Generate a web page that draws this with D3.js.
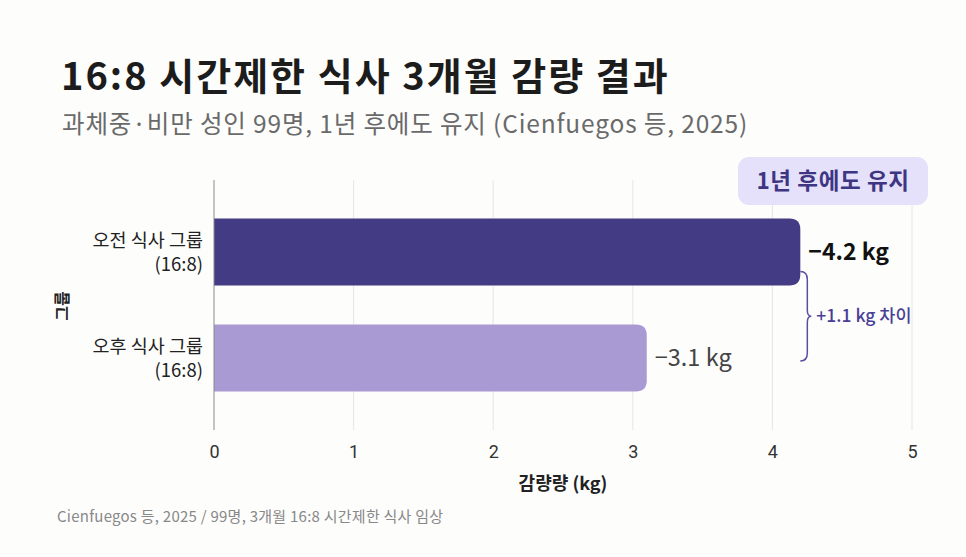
<!DOCTYPE html>
<html>
<head>
<meta charset="utf-8">
<script src="https://cdn.jsdelivr.net/npm/d3@7"></script>
<style>
  body { margin: 0; background: #fdfdfc; }
  svg { display: block; font-family: "Noto Sans CJK KR", "Noto Sans", sans-serif; }
</style>
</head>
<body>
<script>
// data
const groups = ["오전 식사 그룹", "오후 식사 그룹"];
const groupSub = ["(16:8)", "(16:8)"];
const loss = [4.2, 3.1];
const valueLabels = ["\u22124.2 kg", "\u22123.1 kg"];
const xTicks = [0, 1, 2, 3, 4, 5];
const colors = ["#433b84", "#a99ad4"];

const W = 966, H = 557;
const m = { left: 214, right: 54, top: 180, bottom: 127 };

const svg = d3.select("body").append("svg")
  .attr("width", W).attr("height", H);

svg.append("rect").attr("width", W).attr("height", H).attr("fill", "#fdfdfc");

// titles
svg.append("text")
  .attr("x", 61).attr("y", 90)
  .attr("font-size", "38px").attr("font-weight", 700)
  .attr("letter-spacing", "2px")
  .attr("fill", "#1c1c1c")
  .text("16:8 시간제한 식사 3개월 감량 결과");

svg.append("text")
  .attr("x", 62).attr("y", 133)
  .attr("font-size", "24.5px")
  .attr("letter-spacing", "0.85px")
  .attr("fill", "#6a6a6a")
  .text("과체중·비만 성인 99명, 1년 후에도 유지 (Cienfuegos 등, 2025)");

const x = d3.scaleLinear().domain([0, 5]).range([m.left, W - m.right]);
const y = d3.scaleBand().domain(groups).range([m.top, H - m.bottom])
  .paddingInner(0.368).paddingOuter(0.363);

// grid
svg.append("g").selectAll("line")
  .data(xTicks.slice(1))
  .join("line")
  .attr("x1", d => x(d)).attr("x2", d => x(d))
  .attr("y1", m.top).attr("y2", H - m.bottom)
  .attr("stroke", "#e6e6e6").attr("stroke-width", 1);

// bars: square on the left, rounded on the right
const r = 11;
function barPath(d, i) {
  const x0 = x(0), x1 = x(d), y0 = y(groups[i]), y1 = y0 + y.bandwidth();
  return `M${x0},${y0}H${x1 - r}Q${x1},${y0} ${x1},${y0 + r}V${y1 - r}Q${x1},${y1} ${x1 - r},${y1}H${x0}Z`;
}
svg.append("g").selectAll("path")
  .data(loss)
  .join("path")
  .attr("d", barPath)
  .attr("fill", (d, i) => colors[i]);

// y axis line
svg.append("line")
  .attr("x1", x(0)).attr("x2", x(0))
  .attr("y1", m.top).attr("y2", H - m.bottom)
  .attr("stroke", "#8a8a8a").attr("stroke-width", 1);

// x axis ticks
const xAxis = svg.append("g")
  .attr("transform", `translate(0,${H - m.bottom})`)
  .call(d3.axisBottom(x).tickValues(xTicks).tickFormat(d3.format("d")).tickSize(0).tickPadding(15));
xAxis.select(".domain").remove();
xAxis.selectAll("text")
  .attr("font-size", "18px").attr("fill", "#333")
  .attr("font-family", "Roboto, 'Noto Sans', sans-serif");

svg.append("text")
  .attr("x", x(2.5)).attr("y", 490)
  .attr("text-anchor", "middle")
  .attr("font-size", "18px").attr("font-weight", 700).attr("fill", "#222")
  .text("감량량 (kg)");

// category labels
const cat = svg.append("g").selectAll("text")
  .data(groups)
  .join("text")
  .attr("text-anchor", "end")
  .attr("font-size", "18.5px").attr("fill", "#222");
cat.append("tspan")
  .attr("x", 203).attr("y", (d) => y(d) + y.bandwidth() / 2 - 5)
  .text(d => d);
cat.append("tspan")
  .attr("x", 203).attr("y", (d) => y(d) + y.bandwidth() / 2 + 19)
  .text((d, i) => groupSub[i]);

svg.append("text")
  .attr("transform", `translate(68,${(m.top + H - m.bottom) / 2 + 1}) rotate(-90)`)
  .attr("text-anchor", "middle")
  .attr("font-size", "16px").attr("font-weight", 700).attr("fill", "#222")
  .text("그룹");

// value labels
svg.append("g").selectAll("text")
  .data(loss)
  .join("text")
  .attr("x", d => x(d) + 8)
  .attr("y", (d, i) => y(groups[i]) + y.bandwidth() / 2 + 8)
  .attr("font-size", (d, i) => i === 0 ? "23px" : "23.5px")
  .attr("font-weight", (d, i) => i === 0 ? 700 : 400)
  .attr("fill", (d, i) => i === 0 ? "#111" : "#444")
  .text((d, i) => valueLabels[i]);

// difference bracket
const bx = x(loss[0]);
const by0 = y(groups[0]) + y.bandwidth() - 14;
const by1 = y(groups[1]) + y.bandwidth() / 2 + 3;
const bm = (by0 + by1) / 2;
svg.append("path")
  .attr("d", `M${bx},${by0}Q${bx + 7},${by0} ${bx + 7},${by0 + 8}V${bm - 6}Q${bx + 7},${bm} ${bx + 11},${bm}Q${bx + 7},${bm} ${bx + 7},${bm + 6}V${by1 - 8}Q${bx + 7},${by1} ${bx},${by1}`)
  .attr("fill", "none").attr("stroke", "#5a4f9f").attr("stroke-width", 1.5);
svg.append("text")
  .attr("x", bx + 16).attr("y", bm + 6)
  .attr("font-size", "17.5px").attr("font-weight", 500).attr("fill", "#4a3f96")
  .text(`+${d3.format(".1f")(loss[0] - loss[1])} kg 차이`);

// badge
const badge = svg.append("g").attr("transform", "translate(738,157)");
badge.append("rect")
  .attr("width", 190).attr("height", 48).attr("rx", 11)
  .attr("fill", "#e6e1fa");
badge.append("text")
  .attr("x", 95).attr("y", 32)
  .attr("text-anchor", "middle")
  .attr("font-size", "22.5px").attr("font-weight", 700).attr("fill", "#3e3682")
  .attr("letter-spacing", "0.6px")
  .text("1년 후에도 유지");

// footer
svg.append("text")
  .attr("x", 57).attr("y", 522)
  .attr("font-size", "15px").attr("fill", "#888")
  .attr("letter-spacing", "0.25px")
  .text("Cienfuegos 등, 2025 / 99명, 3개월 16:8 시간제한 식사 임상");
</script>
</body>
</html>
